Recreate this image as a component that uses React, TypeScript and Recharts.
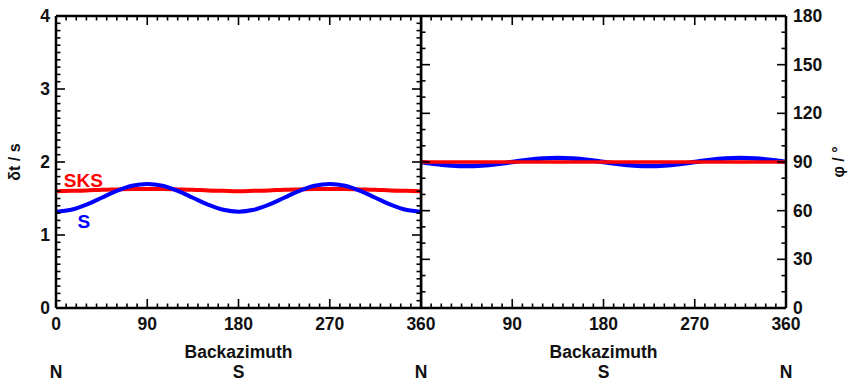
import { LineChart, Line, XAxis, YAxis, ReferenceDot } from 'recharts'

// backazimuth samples (degrees)
const BAZ = [0, 15, 30, 45, 60, 75, 90, 105, 120, 135, 150, 165, 180, 195, 210, 225, 240, 255, 270, 285, 300, 315, 330, 345, 360]

// delay time (s)
const DT_S = [1.32, 1.345, 1.415, 1.51, 1.605, 1.675, 1.7, 1.675, 1.605, 1.51, 1.415, 1.345, 1.32, 1.345, 1.415, 1.51, 1.605, 1.675, 1.7, 1.675, 1.605, 1.51, 1.415, 1.345, 1.32]
const DT_SKS = [1.6, 1.605, 1.61, 1.62, 1.625, 1.63, 1.63, 1.63, 1.625, 1.62, 1.61, 1.605, 1.6, 1.605, 1.61, 1.62, 1.625, 1.63, 1.63, 1.63, 1.625, 1.62, 1.61, 1.605, 1.6]

// fast polarisation (deg)
const PHI_S = [90, 88.75, 87.85, 87.5, 87.85, 88.75, 90, 91.25, 92.15, 92.5, 92.15, 91.25, 90, 88.75, 87.85, 87.5, 87.85, 88.75, 90, 91.25, 92.15, 92.5, 92.15, 91.25, 90]
const PHI_SKS = [90, 90, 90, 90, 90, 90, 90, 90, 90, 90, 90, 90, 90, 90, 90, 90, 90, 90, 90, 90, 90, 90, 90, 90, 90]

const X_MAJOR = [0, 90, 180, 270, 360]
const DT_MAJOR = [0, 1, 2, 3, 4]
const PHI_MAJOR = [0, 30, 60, 90, 120, 150, 180]

const X_TICKS = Array.from({ length: 37 }, (_, i) => i * 10)
const DT_TICKS = Array.from({ length: 41 }, (_, i) => i / 10)
const PHI_TICKS = Array.from({ length: 19 }, (_, i) => i * 10)

const RED = '#ff0000'
const BLUE = '#0000ff'
const INK = '#111'
const FONT = '"Liberation Sans", Arial, sans-serif'
const AXIS = { stroke: '#000', strokeWidth: 2.5 }

const leftData = BAZ.map((b, i) => ({ baz: b, s: DT_S[i], sks: DT_SKS[i] }))
const rightData = BAZ.map((b, i) => ({ baz: b, s: PHI_S[i], sks: PHI_SKS[i] }))

const textStyle = { fontFamily: FONT, fontWeight: 700, fontSize: 17.5, fill: INK }

function XTick(props: any) {
  const { x, y, payload, side, labels, compass } = props
  const v = payload.value
  const major = X_MAJOR.includes(v)
  const len = major ? 9 : 4.5
  const dir = side === 'bottom' ? -1 : 1
  return (
    <g>
      <line x1={x} x2={x} y1={y} y2={y + dir * len} stroke="#000" strokeWidth={1.6} />
      {side === 'bottom' && labels.includes(v) && (
        <text x={x} y={y + 22} textAnchor="middle" style={textStyle}>
          {v}
        </text>
      )}
      {side === 'bottom' && compass[v] && (
        <text x={x} y={y + 70} textAnchor="middle" style={textStyle}>
          {compass[v]}
        </text>
      )}
    </g>
  )
}

function YTick(props: any) {
  const { x, y, payload, side, majors, labelSide } = props
  const v = payload.value
  const major = majors.includes(v)
  const len = major ? 9 : 4.5
  const dir = side === 'left' ? 1 : -1
  return (
    <g>
      <line x1={x} x2={x + dir * len} y1={y} y2={y} stroke="#000" strokeWidth={1.6} />
      {major && labelSide === 'left' && (
        <text x={x - 6} y={y + 6} textAnchor="end" style={textStyle}>
          {v}
        </text>
      )}
      {major && labelSide === 'right' && (
        <text x={x + 7} y={y + 6} textAnchor="start" style={textStyle}>
          {v}
        </text>
      )}
    </g>
  )
}

function xTitle(props: any) {
  const { x, y, width } = props.viewBox
  return (
    <text x={x + width / 2} y={y + 50} textAnchor="middle" style={textStyle}>
      Backazimuth
    </text>
  )
}

function yTitle(text: string, dx: number) {
  return (props: any) => {
    const { x, y, height } = props.viewBox
    const cx = x + dx
    const cy = y + height / 2
    return (
      <text
        x={cx}
        y={cy}
        transform={`rotate(-90, ${cx}, ${cy})`}
        textAnchor="middle"
        dominantBaseline="central"
        style={{ ...textStyle, fontSize: 16 }}
      >
        {text}
      </text>
    )
  }
}

function seriesLabel(text: string, color: string) {
  return (props: any) => {
    const { x, y } = props.viewBox
    return (
      <text
        x={x}
        y={y}
        textAnchor="middle"
        dominantBaseline="central"
        style={{ fontFamily: FONT, fontWeight: 700, fontSize: 19, fill: color }}
      >
        {text}
      </text>
    )
  }
}

export default function App() {
  return (
    <div style={{ position: 'absolute', left: 0, top: 0, width: 853, height: 382, background: '#fff' }}>
      {/* left panel: delay time */}
      <div style={{ position: 'absolute', left: 0, top: 0 }}>
        <LineChart width={442} height={382} data={leftData} margin={{ top: 15, right: 20, bottom: 0, left: 0 }}>
          <XAxis
            dataKey="baz"
            type="number"
            domain={[0, 360]}
            ticks={X_TICKS}
            interval={0}
            tickSize={0}
            tickMargin={0}
            height={74}
            axisLine={AXIS}
            tickLine={false}
            tick={(p: any) => (
              <XTick {...p} side="bottom" labels={X_MAJOR} compass={{ 0: 'N', 180: 'S', 360: 'N' }} />
            )}
            label={xTitle}
          />
          <XAxis
            xAxisId="top"
            dataKey="baz"
            orientation="top"
            type="number"
            domain={[0, 360]}
            allowDataOverflow
            ticks={X_TICKS}
            interval={0}
            tickSize={0}
            tickMargin={0}
            height={1}
            axisLine={AXIS}
            tickLine={false}
            tick={(p: any) => <XTick {...p} side="top" labels={[]} compass={{}} />}
          />
          <YAxis
            type="number"
            domain={[0, 4]}
            allowDataOverflow
            ticks={DT_TICKS}
            interval={0}
            tickSize={0}
            tickMargin={0}
            width={56}
            axisLine={AXIS}
            tickLine={false}
            tick={(p: any) => <YTick {...p} side="left" majors={DT_MAJOR} labelSide="left" />}
            label={yTitle('δt / s', 14)}
          />
          <YAxis
            yAxisId="r"
            orientation="right"
            type="number"
            domain={[0, 4]}
            allowDataOverflow
            ticks={DT_TICKS}
            interval={0}
            tickSize={0}
            tickMargin={0}
            width={1}
            axisLine={AXIS}
            tickLine={false}
            tick={(p: any) => <YTick {...p} side="right" majors={DT_MAJOR} labelSide="none" />}
          />
          <Line xAxisId="top" yAxisId="r" dataKey="sks" stroke="none" dot={false} isAnimationActive={false} />
          <Line type="monotone" dataKey="sks" stroke={RED} strokeWidth={4} dot={false} isAnimationActive={false} />
          <Line type="monotone" dataKey="s" stroke={BLUE} strokeWidth={4} dot={false} isAnimationActive={false} />
          <ReferenceDot x={27} y={1.74} r={0} fill="none" stroke="none" label={seriesLabel('SKS', RED)} />
          <ReferenceDot x={27.5} y={1.19} r={0} fill="none" stroke="none" label={seriesLabel('S', BLUE)} />
        </LineChart>
      </div>

      {/* right panel: fast direction */}
      <div style={{ position: 'absolute', left: 420, top: 0 }}>
        <LineChart width={433} height={382} data={rightData} margin={{ top: 15, right: 0, bottom: 0, left: 0 }}>
          <XAxis
            dataKey="baz"
            type="number"
            domain={[0, 360]}
            ticks={X_TICKS}
            interval={0}
            tickSize={0}
            tickMargin={0}
            height={74}
            axisLine={AXIS}
            tickLine={false}
            tick={(p: any) => (
              <XTick {...p} side="bottom" labels={[90, 180, 270, 360]} compass={{ 180: 'S', 360: 'N' }} />
            )}
            label={xTitle}
          />
          <XAxis
            xAxisId="top"
            dataKey="baz"
            orientation="top"
            type="number"
            domain={[0, 360]}
            allowDataOverflow
            ticks={X_TICKS}
            interval={0}
            tickSize={0}
            tickMargin={0}
            height={1}
            axisLine={AXIS}
            tickLine={false}
            tick={(p: any) => <XTick {...p} side="top" labels={[]} compass={{}} />}
          />
          <YAxis
            yAxisId="l"
            orientation="left"
            type="number"
            domain={[0, 180]}
            allowDataOverflow
            ticks={PHI_TICKS}
            interval={0}
            tickSize={0}
            tickMargin={0}
            width={1}
            axisLine={AXIS}
            tickLine={false}
            tick={(p: any) => <YTick {...p} side="left" majors={PHI_MAJOR} labelSide="none" />}
          />
          <YAxis
            orientation="right"
            type="number"
            domain={[0, 180]}
            allowDataOverflow
            ticks={PHI_TICKS}
            interval={0}
            tickSize={0}
            tickMargin={0}
            width={67}
            axisLine={AXIS}
            tickLine={false}
            tick={(p: any) => <YTick {...p} side="right" majors={PHI_MAJOR} labelSide="right" />}
            label={yTitle('φ / °', 52)}
          />
          <Line xAxisId="top" yAxisId="l" dataKey="sks" stroke="none" dot={false} isAnimationActive={false} />
          <Line type="monotone" dataKey="s" stroke={BLUE} strokeWidth={4.5} dot={false} isAnimationActive={false} />
          <Line type="monotone" dataKey="sks" stroke={RED} strokeWidth={3.5} dot={false} isAnimationActive={false} />
        </LineChart>
      </div>
    </div>
  )
}
